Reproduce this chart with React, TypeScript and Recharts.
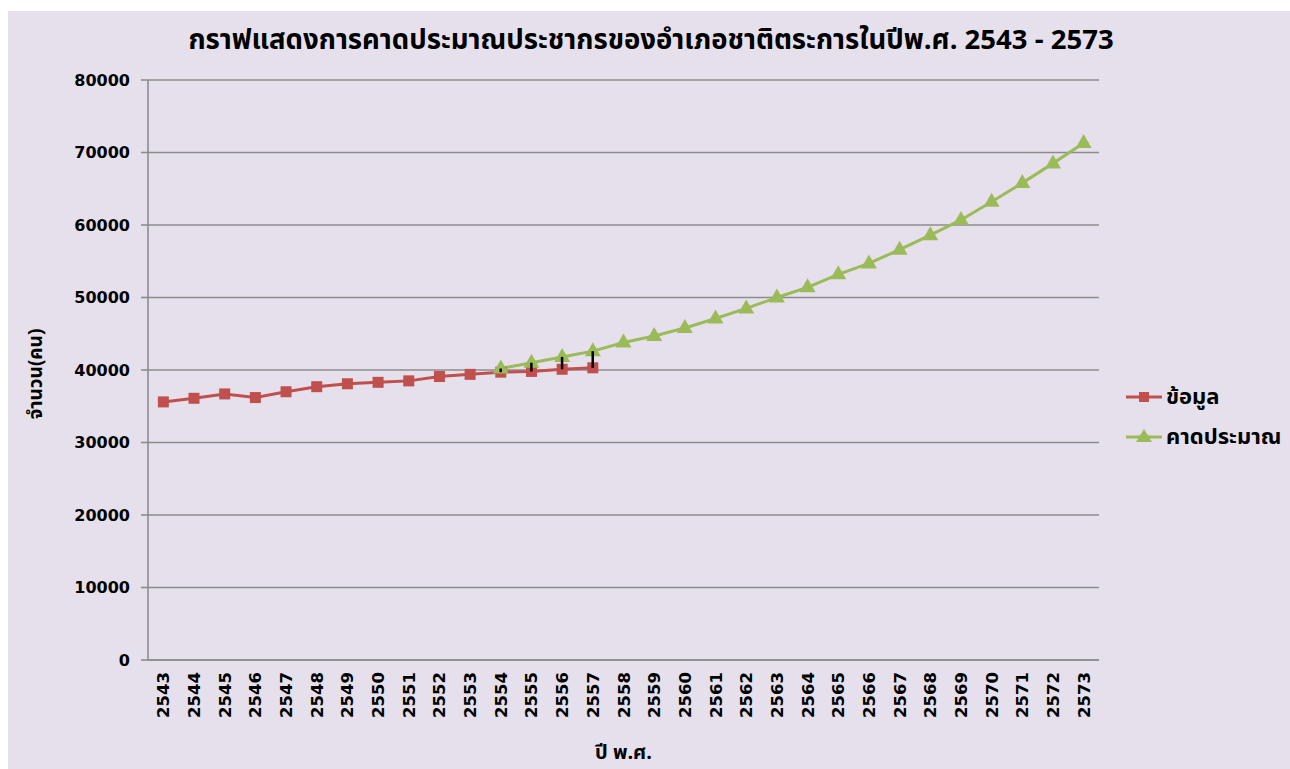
import React from 'react';
import { ComposedChart, Line, Bar, XAxis, YAxis, CartesianGrid } from 'recharts';

// Buddhist-era years on the category axis
const years = [
  '2543', '2544', '2545', '2546', '2547', '2548', '2549', '2550', '2551', '2552', '2553',
  '2554', '2555', '2556', '2557', '2558', '2559', '2560', '2561', '2562', '2563', '2564',
  '2565', '2566', '2567', '2568', '2569', '2570', '2571', '2572', '2573',
];

// ข้อมูล: recorded population, 2543 - 2557
const recorded = [
  35600, 36100, 36700, 36200, 37000, 37700, 38100, 38300, 38500, 39100, 39400, 39700, 39800,
  40100, 40300,
];

// คาดประมาณ: projected population, 2554 - 2573
const projected = [
  40200, 41000, 41800, 42600, 43800, 44700, 45800, 47100, 48500, 50000, 51400, 53200, 54700,
  56600, 58600, 60700, 63200, 65800, 68500, 71300,
];
const projectedStart = 11;

const yTicks = [0, 10000, 20000, 30000, 40000, 50000, 60000, 70000, 80000];

const RED = '#C0504D';
const GREEN = '#9BBB59';
const GRID = '#8C8C8C';
const FONT = 'Tahoma, "DejaVu Sans", "Noto Sans", sans-serif';
const THAI_FONT = 'Tahoma, "Noto Sans Thai", "Noto Sans", "DejaVu Sans", sans-serif';

const data = years.map((year, i) => {
  const j = i - projectedStart;
  const rec = i < recorded.length ? recorded[i] : null;
  const proj = j >= 0 ? projected[j] : null;
  return {
    year,
    recorded: rec,
    projected: proj,
    // black high-low line where both series exist (2554 - 2557)
    span: rec != null && proj != null ? [rec, proj] : null,
  };
});

function SquareDot(props: any) {
  const { cx, cy, index } = props;
  if (cx == null || cy == null) return <g key={`sq-${index}`} />;
  return <rect key={`sq-${index}`} x={cx - 5.5} y={cy - 5.5} width={11} height={11} fill={RED} />;
}

function TriangleDot(props: any) {
  const { cx, cy, index } = props;
  if (cx == null || cy == null) return <g key={`tr-${index}`} />;
  return (
    <path
      key={`tr-${index}`}
      d={`M${cx},${cy - 9} L${cx + 8},${cy + 5} L${cx - 8},${cy + 5} Z`}
      fill={GREEN}
    />
  );
}

function YearTick(props: any) {
  const { x, y, payload } = props;
  const bx = x + 6;
  const by = y + 4;
  return (
    <text
      x={bx}
      y={by}
      transform={`rotate(-90, ${bx}, ${by})`}
      textAnchor="end"
      fontFamily={FONT}
      fontWeight="bold"
      fontSize={16.5}
      fill="#000"
    >
      {payload.value}
    </text>
  );
}

function YTitle(props: any) {
  const { viewBox } = props;
  const x = 34;
  const y = viewBox.y + viewBox.height / 2 + 4;
  return (
    <text
      x={x}
      y={y}
      transform={`rotate(-90, ${x}, ${y})`}
      textAnchor="middle"
      fontFamily={THAI_FONT}
      fontWeight="bold"
      fontSize={19}
      fill="#000"
    >
      จำนวน(คน)
    </text>
  );
}

function LegendRow({ color, label, square }: { color: string; label: string; square: boolean }) {
  return (
    <div style={{ display: 'flex', alignItems: 'center', height: 40 }}>
      <svg width={42} height={20}>
        <line x1={2} y1={10} x2={38} y2={10} stroke={color} strokeWidth={3} />
        {square ? (
          <rect x={15} y={5} width={10} height={10} fill={color} />
        ) : (
          <path d="M20,2 L28,15 L12,15 Z" fill={color} />
        )}
      </svg>
      <span style={{ fontFamily: THAI_FONT, fontWeight: 'bold', fontSize: 22, color: '#000' }}>
        {label}
      </span>
    </div>
  );
}

export default function App() {
  const spanProps: any = { zIndex: 900 };
  return (
    <div
      style={{
        position: 'fixed',
        left: 8,
        top: 11,
        width: 1282,
        height: 758,
        background: '#E5E0EC',
        overflow: 'hidden',
      }}
    >
      <div
        style={{
          position: 'absolute',
          left: 0,
          top: 9,
          width: 1286,
          textAlign: 'center',
          fontFamily: THAI_FONT,
          fontWeight: 'bold',
          fontSize: 27.5,
          color: '#000',
        }}
      >
        กราฟแสดงการคาดประมาณประชากรของอำเภอชาติตระการในปีพ.ศ. 2543 - 2573
      </div>

      <ComposedChart
        width={1282}
        height={758}
        data={data}
        margin={{ top: 69, right: 191, bottom: 0, left: 0 }}
      >
        <CartesianGrid horizontal vertical={false} stroke={GRID} strokeWidth={1.6} />
        <XAxis
          dataKey="year"
          scale="band"
          interval={0}
          height={109}
          tickLine={false}
          axisLine={{ stroke: GRID, strokeWidth: 1.6 }}
          tick={<YearTick />}
          label={{
            value: 'ปี พ.ศ.',
            position: 'insideBottom',
            offset: 10,
            fontFamily: THAI_FONT,
            fontWeight: 'bold',
            fontSize: 20,
            fill: '#000',
          }}
        />
        <YAxis
          width={140}
          domain={[0, 80000]}
          ticks={yTicks}
          interval={0}
          tickSize={7}
          tickMargin={11}
          tickLine={{ stroke: GRID, strokeWidth: 1.6 }}
          axisLine={{ stroke: GRID, strokeWidth: 1.6 }}
          tick={{ fontFamily: FONT, fontWeight: 'bold', fontSize: 16, fill: '#000' }}
          label={{ content: <YTitle /> }}
        />
        <Line
          type="linear"
          dataKey="recorded"
          name="ข้อมูล"
          stroke={RED}
          strokeWidth={3}
          dot={<SquareDot />}
          activeDot={false}
          connectNulls={false}
          isAnimationActive={false}
        />
        <Line
          type="linear"
          dataKey="projected"
          name="คาดประมาณ"
          stroke={GREEN}
          strokeWidth={3}
          dot={<TriangleDot />}
          activeDot={false}
          connectNulls={false}
          isAnimationActive={false}
        />
        <Bar
          dataKey="span"
          barSize={2.5}
          fill="#000"
          legendType="none"
          isAnimationActive={false}
          {...spanProps}
        />
      </ComposedChart>

      <div style={{ position: 'absolute', left: 1116, top: 366 }}>
        <LegendRow color={RED} label="ข้อมูล" square />
        <LegendRow color={GREEN} label="คาดประมาณ" square={false} />
      </div>
    </div>
  );
}
